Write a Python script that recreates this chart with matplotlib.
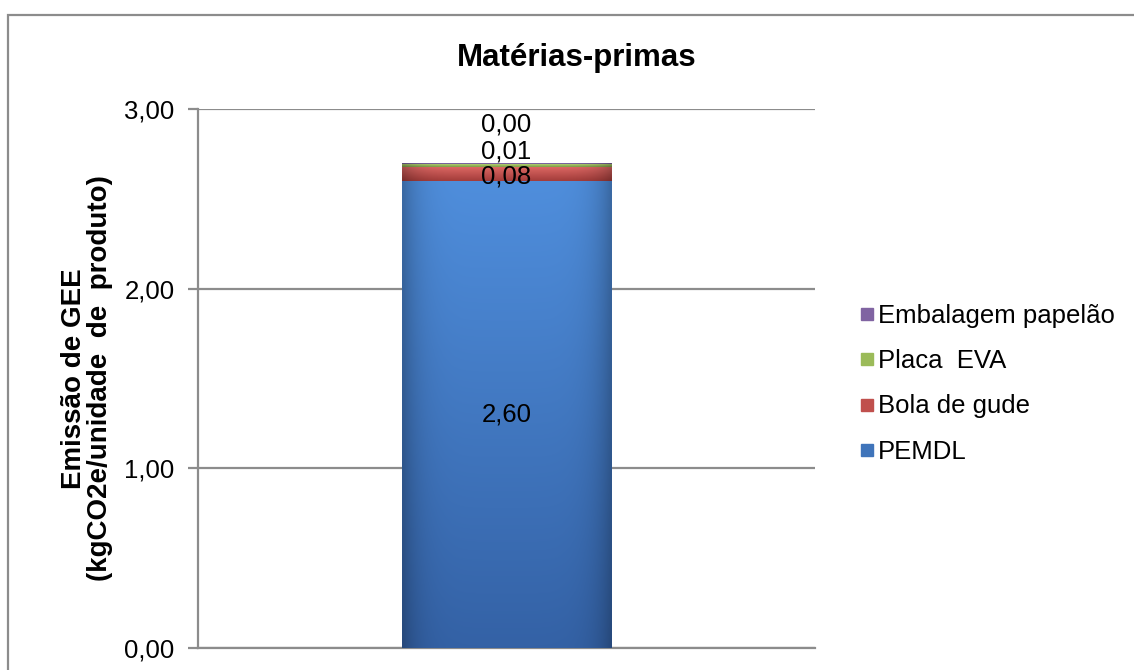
import numpy as np
import matplotlib
matplotlib.use("Agg")
import matplotlib.pyplot as plt
from matplotlib.colors import LinearSegmentedColormap
from matplotlib.lines import Line2D
from matplotlib.patches import Rectangle

plt.rcParams["font.family"] = ["Liberation Sans", "DejaVu Sans"]

categories = [""]
series = ["PEMDL", "Bola de gude", "Placa  EVA", "Embalagem papelão"]
values = [2.60, 0.08, 0.013, 0.004]
colors = ["#3F74BA", "#C0504D", "#9BBB59", "#8064A2"]
# light/dark ends of the gradient on each segment
grad = [("#4F8EDC", "#3462A6"), ("#E06A66", "#A33C3A"),
        ("#B0D070", "#7F9C45"), ("#9A80BC", "#66508A")]
# label offsets (points) from segment centre
label_offsets = [0, -2, 10, 28]

yticks = [0, 1, 2, 3]

fig = plt.figure(figsize=(11.34, 6.70), dpi=100)
ax = fig.add_axes([0.1746, 0.0328, 0.7187 - 0.1746, 0.8373 - 0.0328])

# outer chart frame (runs off the right and bottom edges)
fig.patches.append(Rectangle((8 / 1134, -0.05), 1.2, 1 - 15 / 670 + 0.05,
                             transform=fig.transFigure, fill=False,
                             edgecolor="#8C8C8C", linewidth=1.6, zorder=0))

x = np.arange(len(categories))
width = 0.34
bottom = 0.0
for name, val, col, (c1, c2), off in zip(series, values, colors, grad, label_offsets):
    bars = ax.bar(x, val, width, bottom=bottom, color=col, label=name,
                  edgecolor="none", zorder=3)
    patch = bars[0]
    # vertical gradient with darker sides
    cmap = LinearSegmentedColormap.from_list(name, [c2, c1])
    v = np.linspace(0, 1, 100)[:, None]
    h = 1 - 0.25 * np.abs(np.linspace(-1, 1, 60))[None, :] ** 6
    img = cmap(v * np.ones((1, 60)))
    img[..., :3] *= h[..., None]
    im = ax.imshow(img, extent=(x[0] - width / 2, x[0] + width / 2, bottom, bottom + val),
                   origin="lower", aspect="auto", zorder=4, interpolation="bilinear")
    im.set_clip_path(patch)
    ax.annotate(f"{val:.2f}".replace(".", ","), (x[0], bottom + val / 2),
                xytext=(0, off), textcoords="offset points",
                ha="center", va="center", fontsize=18.5, zorder=6)
    bottom += val

ax.set_xlim(-0.5, 0.5)
ax.set_ylim(0, 3)
ax.set_yticks(yticks)
ax.set_yticklabels([f"{t:.2f}".replace(".", ",") for t in yticks], fontsize=18.5)
ax.set_xticks([])
ax.yaxis.grid(True, color="#8C8C8C", linewidth=1.6, zorder=0)
ax.set_axisbelow(True)
ax.tick_params(axis="y", length=7, width=1.6, color="#8C8C8C", pad=10)
for s in ["top", "right"]:
    ax.spines[s].set_visible(False)
for s in ["left", "bottom"]:
    ax.spines[s].set_color("#8C8C8C")
    ax.spines[s].set_linewidth(1.6)

ax.set_ylabel("Emissão de GEE\n(kgCO2e/unidade  de  produto)", fontsize=20,
              fontweight="bold", labelpad=2, linespacing=1.0)
ax.yaxis.set_label_coords(-0.137, 0.5)
fig.text(577 / 1134, 1 - 58 / 670, "Matérias-primas", ha="center", va="center",
         fontsize=22.5, fontweight="bold")

handles = [Line2D([], [], marker="s", linestyle="none", markersize=8.5,
                  markerfacecolor=c, markeredgecolor=c) for c in colors]
leg = fig.legend(handles[::-1], series[::-1], loc="upper left",
                 bbox_to_anchor=(846 / 1134, 1 - 291 / 670), frameon=False,
                 fontsize=18.5, handlelength=0.6, handletextpad=0.15,
                 labelspacing=0.83, borderpad=0)

fig.savefig("out.png", dpi=100)
